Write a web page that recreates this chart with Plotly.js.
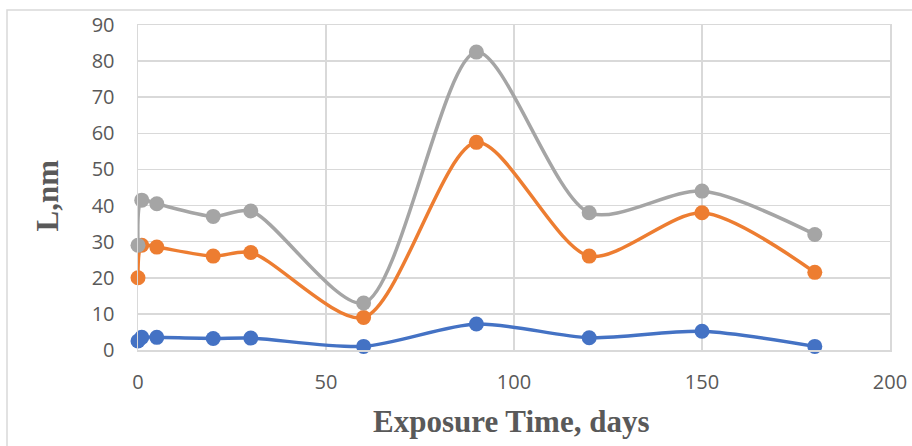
<!DOCTYPE html>
<html>
<head>
<meta charset="utf-8">
<script src="https://cdn.plot.ly/plotly-3.0.1.min.js"></script>
<style>
html,body{margin:0;padding:0;background:#fff;}
#chart{width:912px;height:446px;}
</style>
</head>
<body>
<div id="chart"></div>
<script>
// Exposure time (days)
const days = [0, 1, 5, 20, 30, 60, 90, 120, 150, 180];
// Series values (L, nm)
const seriesBlue = [2.5, 3.5, 3.5, 3.2, 3.3, 1.0, 7.2, 3.4, 5.2, 1.0];
const seriesOrange = [20, 29, 28.5, 26, 27, 9, 57.5, 26, 38, 21.5];
const seriesGray = [29, 41.5, 40.5, 37, 38.5, 13, 82.5, 38, 44, 32];
const xTicks = [0, 50, 100, 150, 200];
const yTicks = [0, 10, 20, 30, 40, 50, 60, 70, 80, 90];
const xTitle = 'Exposure Time, days';
const yTitle = 'L,nm';

function mk(y, color) {
  return {
    x: days, y: y, type: 'scatter', mode: 'lines+markers',
    line: {color: color, width: 3.5, shape: 'spline', smoothing: 0.8},
    marker: {color: color, size: 15},
    showlegend: false, cliponaxis: false
  };
}

const data = [mk(seriesBlue, '#4472C4'), mk(seriesOrange, '#ED7D31'), mk(seriesGray, '#A5A5A5')];

const tickFont = {family: 'Open Sans, Noto Sans, sans-serif', size: 20, color: '#595959'};
const titleFont = {family: 'Liberation Serif, Times New Roman, serif', size: 31, color: '#595959', weight: 'bold'};

const layout = {
  width: 912, height: 446,
  margin: {l: 138, r: 22, t: 25, b: 96},
  paper_bgcolor: '#ffffff', plot_bgcolor: '#ffffff',
  xaxis: {
    range: [0, 200], tickvals: xTicks, ticktext: xTicks.map(String),
    showgrid: true, gridcolor: '#d9d9d9', gridwidth: 1.5,
    showline: true, linecolor: '#d9d9d9', linewidth: 1.5, mirror: true,
    zeroline: false, ticks: '', tickfont: tickFont, ticklabelstandoff: 13
  },
  yaxis: {
    range: [0, 90], tickvals: yTicks, ticktext: yTicks.map(String),
    showgrid: true, gridcolor: '#d9d9d9', gridwidth: 1.5,
    showline: true, linecolor: '#d9d9d9', linewidth: 1.5, mirror: true,
    zeroline: false, ticks: '', tickfont: tickFont, ticklabelstandoff: 18
  },
  annotations: [
    {text: '<b>' + xTitle + '</b>', xref: 'paper', yref: 'paper', x: 0.497, y: -0.2215,
     xanchor: 'center', yanchor: 'middle', showarrow: false, font: titleFont},
    {text: '<b>' + yTitle + '</b>', xref: 'paper', yref: 'paper', x: -0.1203, y: 0.474,
     xanchor: 'center', yanchor: 'middle', textangle: -90, showarrow: false, font: titleFont}
  ],
  shapes: [{
    type: 'rect', xref: 'paper', yref: 'paper',
    x0: -0.1742, x1: 1.04, y0: -0.4, y1: 1.046,
    line: {color: '#d9d9d9', width: 1.5}, fillcolor: 'rgba(0,0,0,0)', layer: 'below'
  }]
};

Plotly.newPlot('chart', data, layout, {staticPlot: true, displayModeBar: false});
</script>
</body>
</html>
